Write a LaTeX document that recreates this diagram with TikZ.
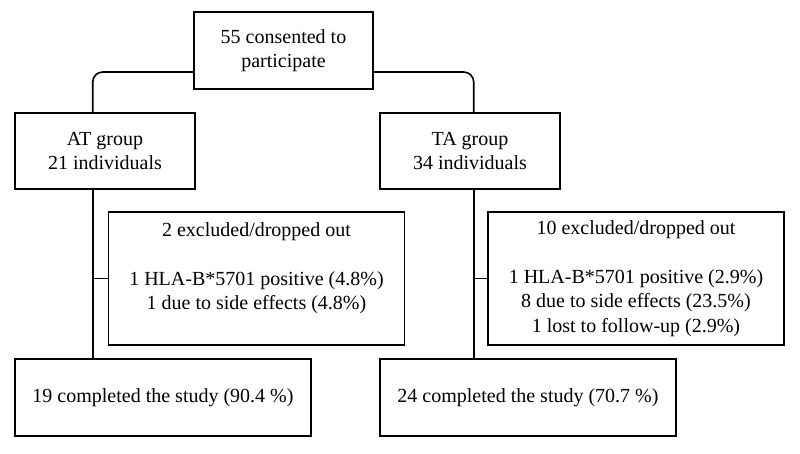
\documentclass[tikz,border=0pt]{standalone}
\usepackage{fontspec}
\setmainfont{Liberation Serif}
\usetikzlibrary{calc}
\begin{document}
\begin{tikzpicture}[x=1pt,y=-1pt,
                    thick,line width=1.6pt,
                    box node/.style={draw,align=center,inner sep=0pt,
                                     font=\fontsize{20}{24.5}\selectfont},
                    group node/.style={box node,minimum width=180pt,minimum height=76pt},
                    out node/.style={box node,minimum width=296pt,minimum height=133pt},
                    done node/.style={box node,minimum width=296pt,minimum height=77pt}
                   ]
               \useasboundingbox (0,0) rectangle (800,453);
               \node[box node,minimum width=179pt,minimum height=77pt] (top) at (283.5,50.5) {55 consented to\\participate};
               \node[group node] (AT) at (105,151) {AT group\\21 individuals};
               \node[group node] (TA) at (470,151) {TA group\\34 individuals};
               \node[out node] (ATout) at (256.5,278.5) {2 excluded/dropped out\\ \mbox{}\\1 HLA-B*5701 positive (4.8\%)\\1 due to side effects (4.8\%)\\ \mbox{}};
               \node[out node] (TAout) at (636,278.5) {10 excluded/dropped out\\ \mbox{}\\1 HLA-B*5701 positive (2.9\%)\\8 due to side effects (23.5\%)\\1 lost to follow-up (2.9\%)};
               \node[done node] (ATdone) at (163,397.5) {19 completed the study (90.4 \%)};
               \node[done node] (TAdone) at (528,397.5) {24 completed the study (70.7 \%)};
               \coordinate (ATline) at ($(AT.south west)+(78.5,0)$);
               \coordinate (TAline) at ($(TA.south west)+(94.5,0)$);
               \draw[rounded corners=10pt] ($(top.west)+(0,21.5)$) -| (ATline |- AT.north);
               \draw[rounded corners=10pt] ($(top.east)+(0,21.5)$) -| (TAline |- TA.north);
               \draw (ATline) -- (ATline |- ATdone.north);
               \draw (TAline) -- (TAline |- TAdone.north);
               \draw (ATout.west) -- (ATout.west -| ATline); %side branch
               \draw (TAout.west) -- (TAout.west -| TAline);
\end{tikzpicture}
\end{document}
